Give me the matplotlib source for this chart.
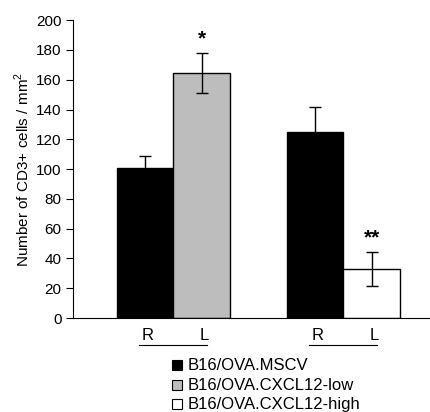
import matplotlib.pyplot as plt
from matplotlib.patches import Rectangle

plt.rcParams['font.family'] = ['Liberation Sans', 'DejaVu Sans']
plt.rcParams['mathtext.fontset'] = 'custom'
plt.rcParams['mathtext.rm'] = 'Liberation Sans'

# values
sides = ['R', 'L', 'R', 'L']
means = [101, 164.5, 125, 33]
errors = [8, 13.5, 17, 11.5]
stars = ['', '*', '', '**']
groups = ['B16/OVA.MSCV', 'B16/OVA.CXCL12-low', 'B16/OVA.CXCL12-high']
colors = ['black', '#bdbdbd', 'white']
bar_group = [0, 1, 0, 2]
positions = [0, 1, 3, 4]

fig = plt.figure(figsize=(4.31, 4.12), dpi=100)
ax = fig.add_axes([0.169, 0.228, 0.829, 0.723])

for x, m, e, g, s in zip(positions, means, errors, bar_group, stars):
    ax.bar(x, m, width=1, color=colors[g], edgecolor='black', linewidth=1, zorder=2)
    ax.errorbar(x, m, yerr=e, color='black', capsize=4, elinewidth=1, capthick=1, zorder=3)
    if s:
        ax.text(x, m + e + 3, s, ha='center', va='bottom', fontsize=15, fontweight='bold')

ax.set_xlim(-1.27, 5.03)
ax.set_ylim(0, 200)
ax.set_yticks(range(0, 201, 20))
ax.tick_params(axis='y', direction='out', length=5, labelsize=11, pad=3)
ax.set_xticks([])
ax.spines['top'].set_visible(False)
ax.spines['right'].set_visible(False)
ax.set_ylabel('Number of CD3+ cells / mm$^{2}$', fontsize=11, labelpad=3)

# R / L labels with a line under each pair
for x, lab in zip(positions, sides):
    ax.text(x + 0.05, -7, lab, ha='center', va='top', fontsize=12,
            transform=ax.transData, clip_on=False)
for x0 in [0, 3]:
    ax.plot([x0 - 0.1, x0 + 1.1], [-18, -18], color='black', lw=0.8, clip_on=False)

# legend drawn as boxes + text below the axes
ly = [365, 385, 404]
for i, g in enumerate(groups):
    yf = 1 - ly[i] / 412
    fig.patches.append(Rectangle((172 / 431, yf - 5 / 412), 10 / 431, 10 / 412,
                                 transform=fig.transFigure, facecolor=colors[i],
                                 edgecolor='black', linewidth=0.8))
    fig.text(188 / 431, yf, g, ha='left', va='center', fontsize=12)

fig.savefig('out.png', dpi=100)
